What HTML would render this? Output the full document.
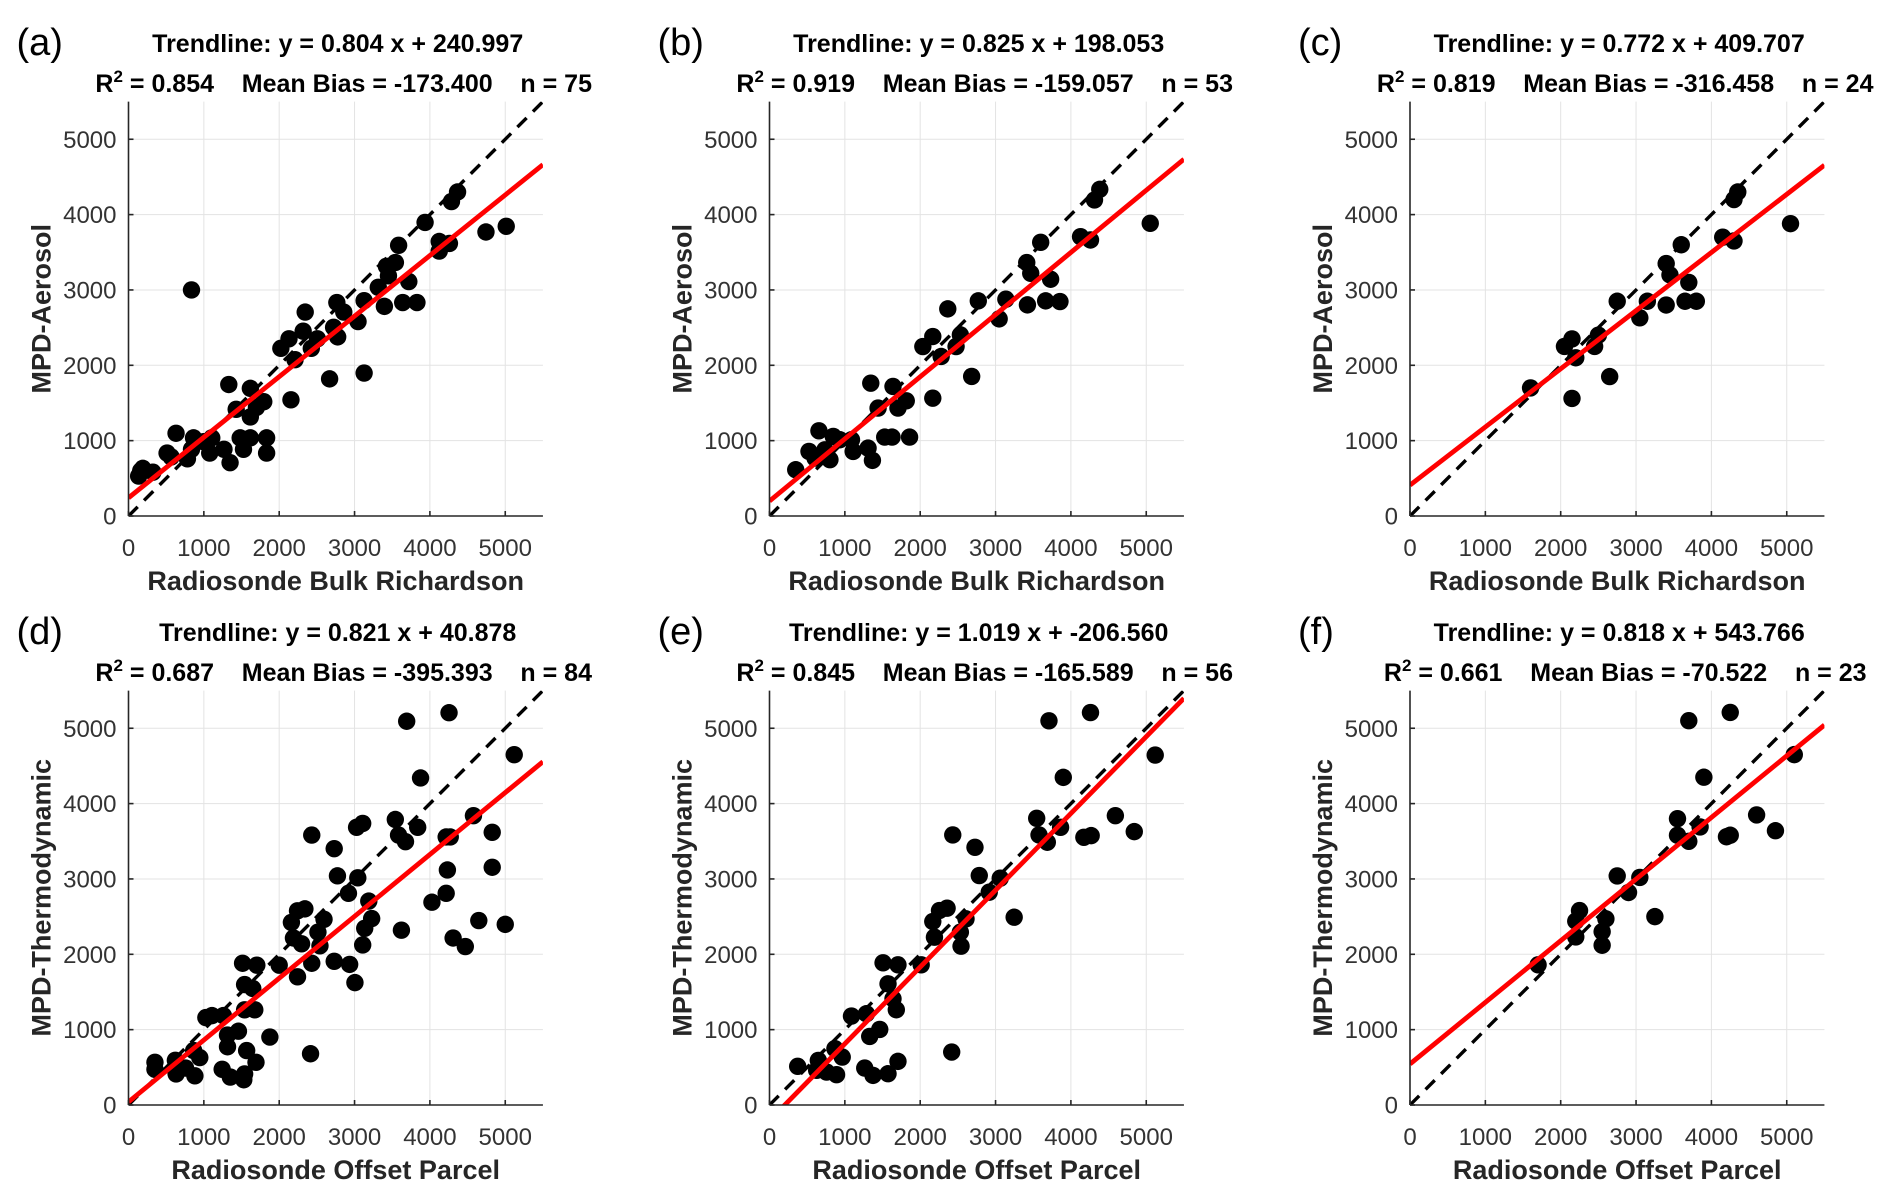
<!DOCTYPE html>
<html><head><meta charset="utf-8">
<style>
html,body{margin:0;padding:0;background:#fff;}
svg{display:block;font-family:"Liberation Sans",Arial,sans-serif;}
</style></head>
<body>
<svg id="fig" width="1892" height="1197" viewBox="0 0 1892 1197" xmlns="http://www.w3.org/2000/svg"></svg>
<script>
// ---- data ----
const panelLabels = ["(a)","(b)","(c)","(d)","(e)","(f)"];
const trendTexts = ["Trendline: y = 0.804 x + 240.997","Trendline: y = 0.825 x + 198.053","Trendline: y = 0.772 x + 409.707","Trendline: y = 0.821 x + 40.878","Trendline: y = 1.019 x + -206.560","Trendline: y = 0.818 x + 543.766"];
const r2Values = ["0.854","0.919","0.819","0.687","0.845","0.661"];
const biasValues = ["-173.400","-159.057","-316.458","-395.393","-165.589","-70.522"];
const nValues = ["75","53","24","84","56","23"];
const slopes = [0.804,0.825,0.772,0.821,1.019,0.818];
const intercepts = [240.997,198.053,409.707,40.878,-206.560,543.766];
const xLabels = ["Radiosonde Bulk Richardson","Radiosonde Bulk Richardson","Radiosonde Bulk Richardson","Radiosonde Offset Parcel","Radiosonde Offset Parcel","Radiosonde Offset Parcel"];
const yLabels = ["MPD-Aerosol","MPD-Aerosol","MPD-Aerosol","MPD-Thermodynamic","MPD-Thermodynamic","MPD-Thermodynamic"];
const tickValues = [0,1000,2000,3000,4000,5000];
const tickLabels = ["0","1000","2000","3000","4000","5000"];
const axisMax = 5500;

const ptsA = [[135,530],[190,632],[162,600],[324,581],[512,835],[566,784],[631,1098],[782,759],[836,3000],[836,885],[863,1037],[997,986],[1078,835],[1105,1037],[1267,885],[1348,708],[1331,1745],[1429,1416],[1482,1037],[1526,885],[1617,1694],[1617,1037],[1617,1315],[1698,1441],[1795,1517],[1833,1037],[1833,835],[2022,2225],[2130,2352],[2156,1542],[2210,2074],[2345,2706],[2318,2453],[2426,2225],[2507,2352],[2669,1820],[2722,2504],[2765,2833],[2776,2377],[2857,2706],[3046,2580],[3127,2858],[3127,1897],[3315,3035],[3396,2782],[3423,3314],[3450,3187],[3542,3364],[3585,3592],[3639,2833],[3720,3111],[3828,2833],[3936,3896],[4124,3643],[4124,3516],[4259,3617],[4286,4173],[4367,4300],[4744,3769],[5013,3845]];
const ptsB = [[348,614],[524,857],[656,1131],[604,769],[736,879],[802,747],[846,1056],[934,1012],[1088,1012],[1110,857],[1308,901],[1366,738],[1344,1763],[1441,1432],[1529,1047],[1626,1047],[1639,1719],[1705,1432],[1815,1529],[1859,1047],[2035,2249],[2167,2382],[2167,1564],[2278,2117],[2366,2749],[2476,2249],[2533,2404],[2683,1852],[2771,2855],[3048,2616],[3137,2877],[3414,3363],[3467,3221],[3423,2802],[3599,3632],[3731,3142],[3665,2855],[3855,2846],[4128,3707],[4260,3663],[4313,4194],[4383,4335],[5053,3884]];
const ptsC = [[1600,1700],[2050,2250],[2150,2350],[2150,1560],[2200,2100],[2450,2250],[2500,2400],[2650,1850],[2750,2850],[3050,2630],[3150,2850],[3400,3350],[3400,2800],[3450,3200],[3600,3600],[3650,2850],[3700,3100],[3800,2850],[4150,3700],[4300,3650],[4300,4200],[4350,4300],[5050,3880]];
const ptsD = [[351,567],[351,474],[622,593],[632,412],[757,490],[881,387],[865,722],[946,629],[1027,1160],[1108,1186],[1243,474],[1259,1186],[1314,928],[1314,773],[1351,371],[1459,979],[1530,335],[1541,412],[1568,722],[1692,567],[1514,1881],[1703,1856],[1541,1598],[1649,1546],[1541,1263],[1676,1263],[1876,902],[2000,1856],[2243,1701],[2162,2423],[2189,2216],[2297,2139],[2243,2577],[2341,2603],[2432,3582],[2432,1881],[2416,680],[2514,2294],[2595,2464],[2541,2113],[2730,3402],[2730,1907],[2773,3041],[2919,2809],[2935,1866],[3005,1624],[3043,3015],[3027,3685],[3108,3737],[3135,2345],[3108,2124],[3189,2706],[3227,2474],[3541,3789],[3584,3582],[3622,2320],[3676,3495],[3692,5093],[3838,3685],[3876,4340],[4027,2691],[4216,3557],[4270,3557],[4216,2809],[4232,3119],[4254,5206],[4308,2216],[4470,2103],[4578,3840],[4649,2448],[4827,3619],[4827,3155],[5000,2397],[5119,4649]];
const ptsE = [[374,513],[648,592],[626,460],[758,437],[890,402],[868,747],[965,636],[1088,1180],[1286,1211],[1264,490],[1374,393],[1330,910],[1463,1003],[1573,415],[1705,579],[1507,1887],[1705,1860],[1573,1608],[1639,1410],[1683,1264],[2013,1860],[2167,2435],[2189,2227],[2256,2581],[2357,2612],[2432,3584],[2418,703],[2533,2293],[2542,2108],[2608,2470],[2727,3420],[2784,3045],[2916,2824],[3062,3010],[3247,2492],[3546,3805],[3577,3584],[3687,3487],[3709,5099],[3863,3685],[3899,4348],[4260,5208],[4172,3553],[4269,3575],[4590,3840],[4841,3628],[5119,4644]];
const ptsF = [[1700,1860],[2200,2440],[2250,2580],[2200,2230],[2550,2300],[2550,2120],[2600,2470],[2750,3040],[2900,2820],[3050,3020],[3250,2500],[3550,3800],[3550,3580],[3700,5100],[3700,3500],[3850,3690],[3900,4350],[4200,3560],[4250,3580],[4250,5210],[4600,3850],[4850,3640],[5100,4650]];
const allPoints = [ptsA,ptsB,ptsC,ptsD,ptsE,ptsF];

// ---- layout ----
const NS = "http://www.w3.org/2000/svg";
const svg = document.getElementById("fig");
const colX = [128.5, 769.5, 1410];
const rowY = [516, 1105];
const pxPer = 75.35/1000;
const panelIds = ["a","b","c","d","e","f"];

function mk(tag, attrs, parent){
  const e = document.createElementNS(NS, tag);
  for (const k in attrs) e.setAttribute(k, attrs[k]);
  parent.appendChild(e);
  return e;
}

for (let p = 0; p < 6; p++){
  const x0 = colX[p%3], y0 = rowY[Math.floor(p/3)];
  const sx = v => x0 + v*pxPer;
  const sy = v => y0 - v*pxPer;
  const x1 = sx(axisMax), yTop = sy(axisMax);
  const g = mk("g", {}, svg);
  
  

  const clipId = "clip" + p;
  const cp = mk("clipPath", {id: clipId}, g);
  mk("rect", {x: x0, y: yTop, width: x1-x0, height: y0-yTop}, cp);

  const grid = mk("g", {stroke:"#e3e3e3","stroke-width":1}, g);
  
  
  tickValues.forEach(v => {
    if (v === 0) return;
    mk("line", {x1: sx(v), x2: sx(v), y1: y0, y2: yTop}, grid);
    mk("line", {x1: x0, x2: x1, y1: sy(v), y2: sy(v)}, grid);
  });

  const pg = mk("g", {fill:"#000"}, g);
  
  
  allPoints[p].forEach(pt => {
    const c = mk("circle", {cx: sx(pt[0]), cy: sy(pt[1]), r: 8.7}, pg);
    
    
  });

  const oneToOne = mk("line", {x1: sx(0), y1: sy(0), x2: sx(axisMax), y2: sy(axisMax), stroke:"#000","stroke-width":3.4,"stroke-dasharray":"13 9","clip-path":"url(#"+clipId+")"}, g);
  
  

  const tl = mk("line", {x1: sx(0), y1: sy(intercepts[p]), x2: sx(axisMax), y2: sy(intercepts[p] + slopes[p]*axisMax), stroke:"#ff0000","stroke-width":4.8,"clip-path":"url(#"+clipId+")"}, g);
  
  

  const ax = mk("g", {stroke:"#262626","stroke-width":1.6}, g);
  
  
  mk("line", {x1: x0, y1: y0, x2: x1, y2: y0}, ax);
  mk("line", {x1: x0, y1: y0, x2: x0, y2: yTop}, ax);
  tickValues.forEach(v => {
    mk("line", {x1: sx(v), x2: sx(v), y1: y0, y2: y0-5}, ax);
    mk("line", {x1: x0, x2: x0+5, y1: sy(v), y2: sy(v)}, ax);
  });

  tickValues.forEach((v,i) => {
    const tx = mk("text", {x: sx(v), y: y0+40, "text-anchor":"middle","font-size":24, fill:"#333"}, g);
    tx.textContent = tickLabels[i];
    
    
    const ty = mk("text", {x: x0-12, y: sy(v)+8.5, "text-anchor":"end","font-size":24, fill:"#333"}, g);
    ty.textContent = tickLabels[i];
    
    
  });

  const xt = mk("text", {x: (x0+x1)/2, y: y0+74, "text-anchor":"middle","font-size":27,"font-weight":"bold", fill:"#262626"}, g);
  xt.textContent = xLabels[p];
  
  
  const yc = (y0+yTop)/2;
  const yt = mk("text", {x: x0-78, y: yc, "text-anchor":"middle","font-size":27,"font-weight":"bold", fill:"#262626", transform:"rotate(-90 "+(x0-78)+" "+yc+")"}, g);
  yt.textContent = yLabels[p];
  
  

  const cx = (x0+x1)/2;
  const t1 = mk("text", {x: cx+2, y: y0-464, "text-anchor":"middle","font-size":25,"font-weight":"bold", fill:"#000"}, g);
  t1.textContent = trendTexts[p];
  
  
  const t2 = mk("text", {x: cx+8, y: y0-424, "text-anchor":"middle","font-size":25,"font-weight":"bold", fill:"#000"}, g);
  
  
  const s1 = mk("tspan", {}, t2); s1.textContent = "R";
  const s2 = mk("tspan", {dy:-10,"font-size":17}, t2); s2.textContent = "2";
  const s3 = mk("tspan", {dy:10}, t2);
  s3.textContent = " = " + r2Values[p] + "\u00a0\u00a0\u00a0\u00a0Mean Bias = " + biasValues[p] + "\u00a0\u00a0\u00a0\u00a0n = " + nValues[p];

  const pl = mk("text", {x: x0-112, y: y0-461, "font-size":38, fill:"#000"}, g);
  pl.textContent = panelLabels[p];
  
  
}
</script>
</body></html>
